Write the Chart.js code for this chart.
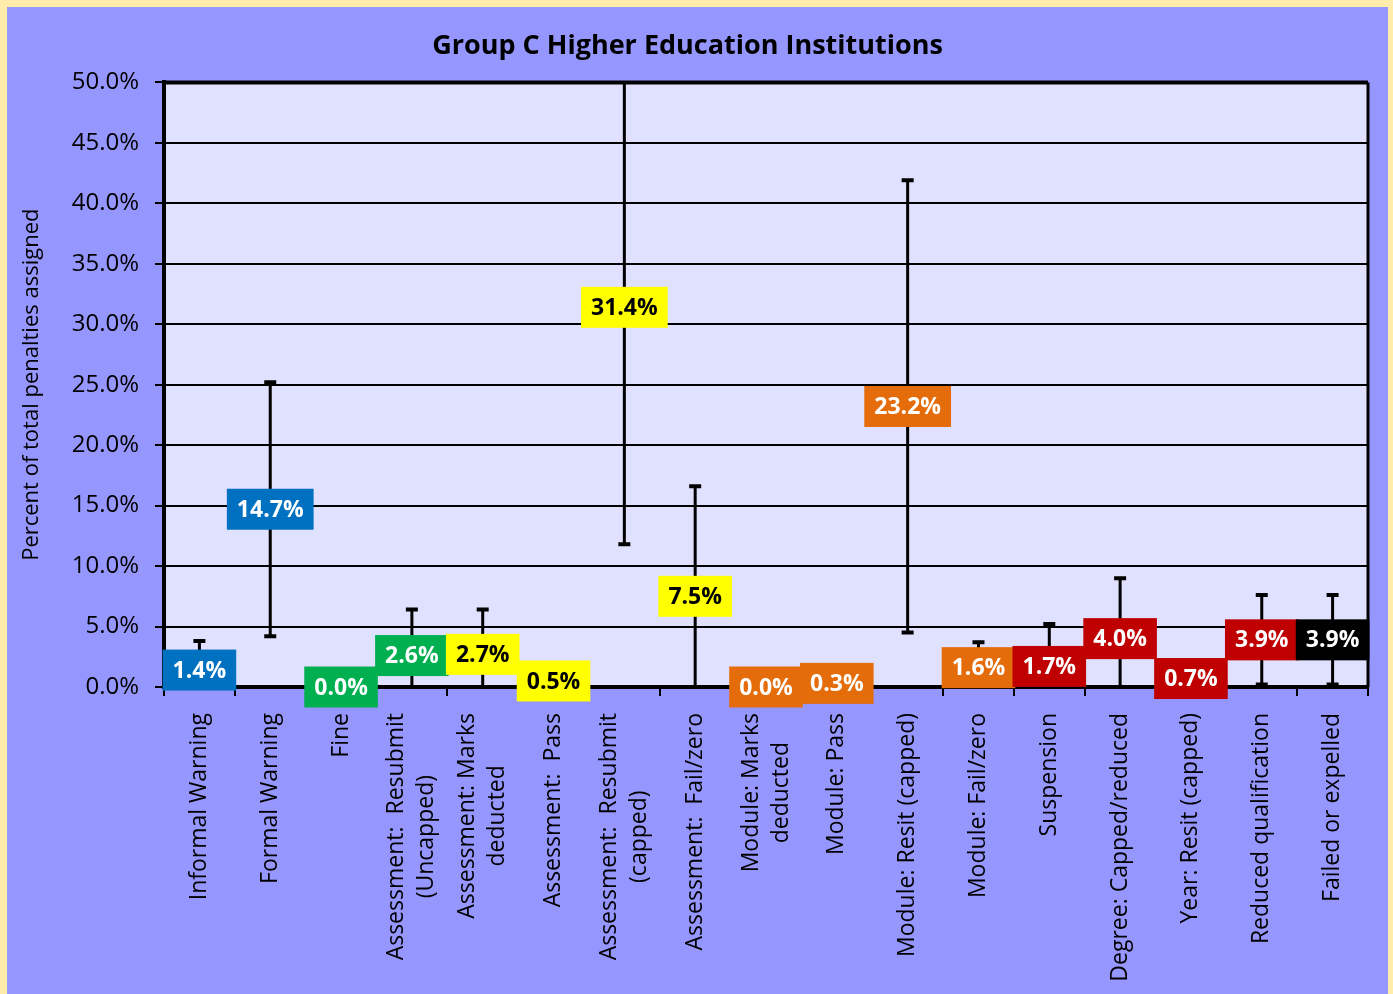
<!DOCTYPE html>
<html>
<head>
<meta charset="utf-8">
<script src="https://cdn.jsdelivr.net/npm/chart.js@4.4.0/dist/chart.umd.min.js"></script>
<style>
  html, body { margin: 0; padding: 0; background: #FFEBAA; overflow: hidden; }
  #wrap { position: absolute; left: 7px; top: 7px; width: 1381px; height: 990px; background: #9696FF; }
</style>
</head>
<body>
<div id="wrap"><canvas id="penalties_chart"></canvas></div>
<script>
const categories = [
  ["Informal Warning"],
  ["Formal Warning"],
  ["Fine"],
  ["Assessment:  Resubmit", "(Uncapped)"],
  ["Assessment: Marks", "deducted"],
  ["Assessment:  Pass"],
  ["Assessment:  Resubmit", "(capped)"],
  ["Assessment:  Fail/zero"],
  ["Module: Marks", "deducted"],
  ["Module: Pass"],
  ["Module: Resit (capped)"],
  ["Module: Fail/zero"],
  ["Suspension"],
  ["Degree: Capped/reduced"],
  ["Year: Resit (capped)"],
  ["Reduced qualification"],
  ["Failed or expelled"],
];
const percents = [1.4, 14.7, 0.0, 2.6, 2.7, 0.5, 31.4, 7.5, 0.0, 0.3, 23.2, 1.6, 1.7, 4.0, 0.7, 3.9, 3.9];
const errors = [2.4, 10.5, 0, 3.8, 3.7, 0, 19.6, 9.1, 0, 0, 18.7, 2.1, 3.5, 5.0, 0, 3.7, 3.7];
const boxColors = [
  "#0070C0", "#0070C0",
  "#00B050", "#00B050",
  "#FFFF00", "#FFFF00", "#FFFF00", "#FFFF00",
  "#E46C0A", "#E46C0A", "#E46C0A", "#E46C0A",
  "#C00000", "#C00000", "#C00000", "#C00000",
  "#000000",
];
const textColors = boxColors.map((c) => (c === "#FFFF00" ? "#000000" : "#FFFFFF"));

// plot area fill
const plotBackground = {
  id: "plotBackground",
  beforeDraw(chart) {
    const { ctx, chartArea } = chart;
    ctx.save();
    ctx.fillStyle = "#E0E0FF";
    ctx.fillRect(chartArea.left, chartArea.top, chartArea.right - chartArea.left, chartArea.bottom - chartArea.top);
    ctx.restore();
  },
};

// error bars, frame and value boxes
const errorBars = {
  id: "errorBars",
  afterDatasetsDraw(chart) {
    const { ctx, chartArea } = chart;
    const y = chart.scales.y;
    const meta = chart.getDatasetMeta(0);

    ctx.save();
    ctx.beginPath();
    ctx.rect(chartArea.left, chartArea.top, chartArea.right - chartArea.left, chartArea.bottom - chartArea.top);
    ctx.clip();
    ctx.strokeStyle = "#000";
    meta.data.forEach((pt, i) => {
      if (!errors[i]) return;
      const yHi = y.getPixelForValue(percents[i] + errors[i]);
      const yLo = y.getPixelForValue(percents[i] - errors[i]);
      ctx.lineWidth = 3;
      ctx.beginPath();
      ctx.moveTo(pt.x, yHi);
      ctx.lineTo(pt.x, yLo);
      ctx.stroke();
      ctx.lineWidth = 4;
      ctx.beginPath();
      ctx.moveTo(pt.x - 6, yHi);
      ctx.lineTo(pt.x + 6, yHi);
      ctx.moveTo(pt.x - 6, yLo);
      ctx.lineTo(pt.x + 6, yLo);
      ctx.stroke();
    });
    ctx.restore();

    // top and right frame
    ctx.save();
    ctx.strokeStyle = "#000";
    ctx.lineWidth = 4;
    ctx.beginPath();
    ctx.moveTo(chartArea.left, chartArea.top);
    ctx.lineTo(chartArea.right, chartArea.top);
    ctx.stroke();
    ctx.lineWidth = 3;
    ctx.beginPath();
    ctx.moveTo(chartArea.right, chartArea.top);
    ctx.lineTo(chartArea.right, chartArea.bottom);
    ctx.stroke();
    ctx.restore();

    ctx.save();
    ctx.font = "bold 23px 'Open Sans'";
    ctx.textAlign = "center";
    ctx.textBaseline = "middle";
    meta.data.forEach((pt, i) => {
      const txt = percents[i].toFixed(1) + "%";
      const w = ctx.measureText(txt).width + 20;
      const h = 41;
      ctx.fillStyle = boxColors[i];
      ctx.fillRect(pt.x - w / 2, pt.y - h / 2, w, h);
      ctx.fillStyle = textColors[i];
      ctx.fillText(txt, pt.x, pt.y + 1);
    });
    ctx.restore();
  },
};

// rotated category labels, lines centred on each other
const categoryLabels = {
  id: "categoryLabels",
  afterDraw(chart) {
    const { ctx, chartArea } = chart;
    const x = chart.scales.x;
    ctx.save();
    ctx.font = "23px 'Open Sans'";
    ctx.fillStyle = "#000";
    ctx.textAlign = "center";
    ctx.textBaseline = "middle";
    categories.forEach((lines, i) => {
      const px = x.getPixelForValue(i);
      const widest = Math.max(...lines.map((l) => ctx.measureText(l).width));
      ctx.save();
      ctx.translate(px, chartArea.bottom + 26);
      ctx.rotate(-Math.PI / 2);
      lines.forEach((l, j) => {
        ctx.fillText(l, -widest / 2, (j - (lines.length - 1) / 2) * 30);
      });
      ctx.restore();
    });
    ctx.restore();
  },
};

new Chart(document.getElementById("penalties_chart"), {
  type: "line",
  data: {
    labels: categories.map((c) => c.join(" ")),
    datasets: [
      {
        data: percents,
        showLine: false,
        pointRadius: 0,
        pointHoverRadius: 0,
      },
    ],
  },
  options: {
    responsive: true,
    maintainAspectRatio: false,
    animation: false,
    layout: {
      padding: { left: 0, right: 20, top: 0, bottom: 0 },
    },
    plugins: {
      legend: false,
      tooltip: { enabled: false },
      title: {
        display: true,
        text: "Group C Higher Education Institutions",
        color: "#000",
        font: { family: "Open Sans", size: 27, weight: "bold" },
        padding: { top: 23, bottom: 20 },
      },
    },
    scales: {
      x: {
        offset: true,
        grid: {
          offset: true,
          drawOnChartArea: false,
          drawTicks: true,
          tickLength: 9,
          color: "#000",
          lineWidth: 2,
        },
        border: { color: "#000", width: 4 },
        ticks: { display: false },
        afterFit: (scale) => {
          scale.height = 310;
        },
      },
      y: {
        min: 0,
        max: 50,
        ticks: {
          stepSize: 5,
          color: "#000",
          padding: 16,
          font: { family: "Open Sans", size: 24 },
          callback: (v) => v.toFixed(1) + "%",
        },
        grid: { color: "#000", lineWidth: 2, tickLength: 9 },
        border: { color: "#000", width: 4 },
        title: {
          display: true,
          text: "Percent of total penalties assigned",
          color: "#000",
          font: { family: "Open Sans", size: 22 },
          padding: { top: 12, bottom: 0 },
        },
        afterFit: (scale) => {
          scale.width = 157;
        },
      },
    },
  },
  plugins: [plotBackground, errorBars, categoryLabels],
});
</script>
</body>
</html>
